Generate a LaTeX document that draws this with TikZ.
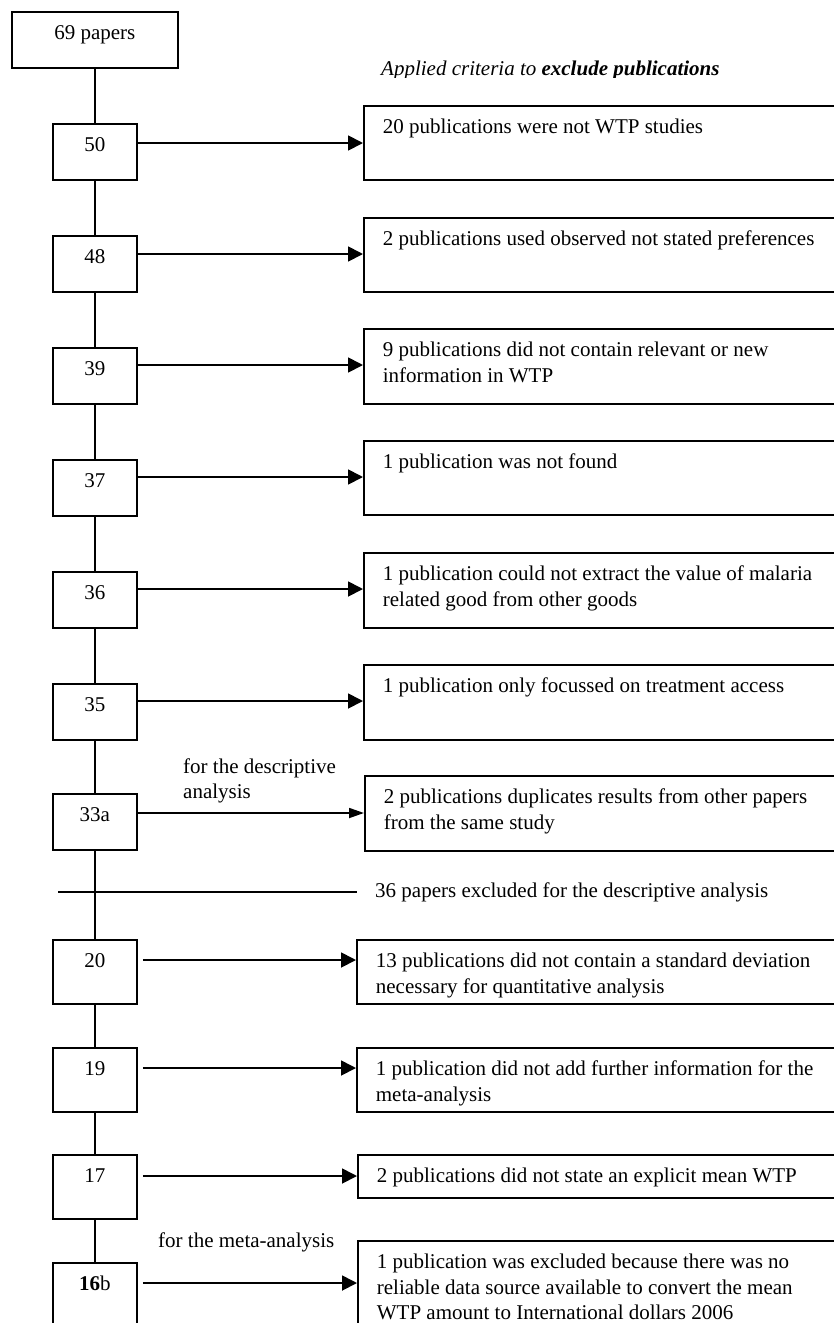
\documentclass[tikz,border=0pt]{standalone}
\usepackage{fontspec}
\setmainfont{Liberation Serif}
\usetikzlibrary{arrows.meta}
\newcommand{\ctxt}[3]{\parbox[t][#1pt][t]{#2pt}{\centering\rule{0pt}{28pt}#3}}
\newcommand{\ltxt}[2]{\parbox[t][#1pt][t]{460pt}{\raggedright\rule{0pt}{28pt}#2}}
\begin{document}
\begin{tikzpicture}[x=1pt,y=-1pt,
  font=\fontsize{21}{25.5}\selectfont,
  lbox/.style={draw, line width=1.8pt, inner sep=0pt, anchor=north west},
  rbox/.style={draw, line width=1.8pt, inner xsep=19pt, inner ysep=0pt, anchor=north west},
  ln/.style={line width=1.8pt},
  arr/.style={line width=1.8pt, -{Triangle[length=15pt,width=15pt]}},
  sarr/.style={line width=1.8pt, -{Triangle[length=15pt,width=10pt]}},
  lbl/.style={inner sep=0pt, anchor=base west}]
\useasboundingbox (0,0) rectangle (834,1323);
% left column
\node[lbox] (n69) at (11,11) {\ctxt{56}{166}{69 papers}};
\node[lbox] (l50) at (52,123) {\ctxt{56}{84}{50}};
\node[lbox] (l48) at (52,235) {\ctxt{56}{84}{48}};
\node[lbox] (l39) at (52,347) {\ctxt{56}{84}{39}};
\node[lbox] (l37) at (52,459) {\ctxt{56}{84}{37}};
\node[lbox] (l36) at (52,571) {\ctxt{56}{84}{36}};
\node[lbox] (l35) at (52,683) {\ctxt{56}{84}{35}};
\node[lbox] (l33) at (52,793) {\ctxt{56}{84}{33a}};
\node[lbox] (l20) at (52,939) {\ctxt{64}{84}{20}};
\node[lbox] (l19) at (52,1047) {\ctxt{64}{84}{19}};
\node[lbox] (l17) at (52,1154) {\ctxt{64}{84}{17}};
\node[lbox] (l16) at (52,1262) {\ctxt{90}{84}{\textbf{16}b}};
% right column
\node[rbox] (r50) at (363,105) {\ltxt{74}{20 publications were not WTP studies}};
\node[rbox] (r48) at (363,217) {\ltxt{74}{2 publications used observed not stated preferences}};
\node[rbox] (r39) at (363,328) {\ltxt{75}{9 publications did not contain relevant or new\\information in WTP}};
\node[rbox] (r37) at (363,440) {\ltxt{74}{1 publication was not found}};
\node[rbox] (r36) at (363,552) {\ltxt{75}{1 publication could not extract the value of malaria\\related good from other goods}};
\node[rbox] (r35) at (363,664) {\ltxt{75}{1 publication only focussed on treatment access}};
\node[rbox] (r33) at (364,775) {\ltxt{75}{2 publications duplicates results from other papers\\from the same study}};
\node[rbox] (r20) at (356,939) {\ltxt{64}{13 publications did not contain a standard deviation\\necessary for quantitative analysis}};
\node[rbox] (r19) at (356,1047) {\ltxt{64}{1 publication did not add further information for the\\meta-analysis}};
\node[rbox] (r17) at (357,1154) {\ltxt{43}{2 publications did not state an explicit mean WTP}};
\node[rbox] (r16) at (357,1240) {\ltxt{120}{1 publication was excluded because there was no\\reliable data source available to convert the mean\\WTP amount to International dollars 2006}};
% labels
\begin{scope}
\clip (0,0) rectangle (834,77);
\node[lbl] (head) at (381,75) {\textit{Applied criteria to \textbf{exclude publications}}};
\end{scope}
\node[lbl] (tdesc) at (183,773) {\parbox[t]{200pt}{for the descriptive\\analysis}};
\node[lbl] (tmeta) at (158,1247) {for the meta-analysis};
\node[anchor=base west, inner xsep=18pt, inner ysep=0pt] (t36) at (357,897) {36 papers excluded for the descriptive analysis};
\coordinate (hl) at (58,892);
% vertical spine
\draw[ln] (n69.south) -- (l50.north);
\draw[ln] (l50.south) -- (l48.north);
\draw[ln] (l48.south) -- (l39.north);
\draw[ln] (l39.south) -- (l37.north);
\draw[ln] (l37.south) -- (l36.north);
\draw[ln] (l36.south) -- (l35.north);
\draw[ln] (l35.south) -- (l33.north);
\draw[ln] (l33.south) -- (l20.north);
\draw[ln] (l20.south) -- (l19.north);
\draw[ln] (l19.south) -- (l17.north);
\draw[ln] (l17.south) -- (l16.north);
% divider
\draw[ln] (hl) -- (hl -| t36.west);
% arrows
\draw[arr] (l50.east |- 0,143) -- (r50.west |- 0,143);
\draw[arr] (l48.east |- 0,254) -- (r48.west |- 0,254);
\draw[arr] (l39.east |- 0,365) -- (r39.west |- 0,365);
\draw[arr] (l37.east |- 0,477) -- (r37.west |- 0,477);
\draw[arr] (l36.east |- 0,589) -- (r36.west |- 0,589);
\draw[arr] (l35.east |- 0,701) -- (r35.west |- 0,701);
\draw[sarr] (l33.east |- 0,813) -- (r33.west |- 0,813);
\draw[arr] (l20.east |- 0,960) ++(5,0) -- (r20.west |- 0,960);
\draw[arr] (l19.east |- 0,1068) ++(5,0) -- (r19.west |- 0,1068);
\draw[arr] (l17.east |- 0,1176) ++(5,0) -- (r17.west |- 0,1176);
\draw[arr] (l16.east |- 0,1283) ++(5,0) -- (r16.west |- 0,1283);
\end{tikzpicture}
\end{document}
